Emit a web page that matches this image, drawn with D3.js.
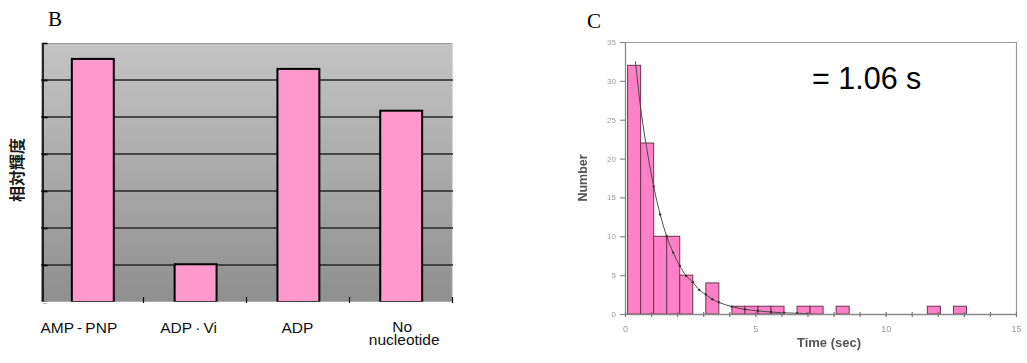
<!DOCTYPE html>
<html>
<head>
<meta charset="utf-8">
<script src="https://cdn.jsdelivr.net/npm/d3@7"></script>
<style>
  html, body { margin: 0; padding: 0; background: #fff; }
  svg { display: block; }
</style>
</head>
<body>
<svg id="fig" width="1027" height="363"></svg>
<script>
// ---- Panel B: relative brightness per nucleotide state ----
const bCategories = ["AMP\u2009-\u2009PNP", "ADP\u2009·\u2009Vi", "ADP", "No nucleotide"];
const bValues = [6.57, 1.02, 6.3, 5.17];
const bGridValues = [0, 1, 2, 3, 4, 5, 6, 7];

// ---- Panel C: dwell-time histogram with exponential fit ----
const cBinStart = [0.1, 0.6, 1.1, 1.6, 2.1, 2.6, 3.1, 3.6, 4.1, 4.6, 5.1, 5.6, 6.1, 6.6, 7.1, 7.6, 8.1, 8.6, 9.1, 9.6, 10.1, 10.6, 11.1, 11.6, 12.1, 12.6];
const cCounts   = [32, 22, 10, 10, 5, 0, 4, 0, 1, 1, 1, 1, 0, 1, 1, 0, 1, 0, 0, 0, 0, 0, 0, 1, 0, 1];
const cFitTime  = [0.4, 0.6, 0.85, 1.1, 1.35, 1.6, 1.85, 2.1, 2.35, 2.6, 2.85, 3.1, 3.35, 3.6, 4.1, 4.6, 5.1, 5.6, 6.1, 6.6, 7.0];
const cFitValue = [32.5, 26.5, 21, 16.4, 12.8, 10, 7.9, 6.2, 4.9, 4.1, 3.1, 2.5, 1.9, 1.5, 0.95, 0.6, 0.4, 0.25, 0.15, 0.1, 0.05];
const cYTicks = [0, 5, 10, 15, 20, 25, 30, 35];
const cXLabels = [0, 5, 10, 15];
const cTau = "= 1.06 s";

const svg = d3.select("#fig");
const defs = svg.append("defs");

// vertical gray gradient behind panel B
const grad = defs.append("linearGradient")
  .attr("id", "plotBg").attr("x1", 0).attr("y1", 0).attr("x2", 0).attr("y2", 1);
grad.append("stop").attr("offset", "0%").attr("stop-color", "#c4c4c4");
grad.append("stop").attr("offset", "100%").attr("stop-color", "#8f8f8f");

// soft focus for the scanned histogram panel
defs.append("filter").attr("id", "soft")
  .attr("x", "-5%").attr("y", "-5%").attr("width", "110%").attr("height", "110%")
  .append("feGaussianBlur").attr("stdDeviation", 0.75);

/* ================= Panel B ================= */
const bL = 41, bR = 453, bT = 43, bB = 302;
const xB = d3.scaleBand().domain(bCategories).range([bL, bR])
  .paddingInner(0.592).paddingOuter(0.3);
const xBTicks = d3.scaleBand().domain(bCategories).range([bL, bR]).padding(0);
const yB = d3.scaleLinear().domain([0, 7]).range([bB, bT]);

const gB = svg.append("g");

gB.append("text").attr("x", 48).attr("y", 26)
  .attr("font-family", "Liberation Serif, Times New Roman, serif")
  .attr("font-size", 21).text("B");

gB.append("rect").attr("x", bL).attr("y", bT)
  .attr("width", bR - bL).attr("height", bB - bT)
  .attr("fill", "url(#plotBg)");

// plot frame (top and right)
gB.append("line").attr("x1", bL).attr("x2", bR).attr("y1", bT + 0.5).attr("y2", bT + 0.5)
  .attr("stroke", "#9a9a9a").attr("stroke-width", 1.2);
gB.append("line").attr("x1", bR - 0.5).attr("x2", bR - 0.5).attr("y1", bT).attr("y2", bB)
  .attr("stroke", "#d6d6d6").attr("stroke-width", 1.2);

// horizontal gridlines
gB.append("g").selectAll("line")
  .data(bGridValues.filter(v => v > 0 && v < 7))
  .join("line")
  .attr("x1", bL).attr("x2", bR)
  .attr("y1", d => yB(d)).attr("y2", d => yB(d))
  .attr("stroke", "#262626").attr("stroke-width", 1.3);

// left value axis (no labels)
const yAxisB = gB.append("g").attr("transform", `translate(${bL + 1.5},0)`)
  .call(d3.axisLeft(yB).tickValues(bGridValues).tickSize(-5).tickSizeOuter(0).tickFormat(""));
yAxisB.select(".domain").attr("stroke", "#000").attr("stroke-width", 1.6);
yAxisB.selectAll(".tick line").attr("stroke", "#000").attr("stroke-width", 1.6);

// bars
gB.append("g").selectAll("rect")
  .data(bCategories.map((c, i) => ({ c, v: bValues[i] })))
  .join("rect")
  .attr("x", d => xB(d.c)).attr("width", xB.bandwidth())
  .attr("y", d => yB(d.v)).attr("height", d => yB(0) - yB(d.v))
  .attr("fill", "#ff99cc").attr("stroke", "#000").attr("stroke-width", 2);

// category axis: white baseline with ticks between categories
gB.append("line").attr("x1", bL).attr("x2", bR).attr("y1", bB + 0.5).attr("y2", bB + 0.5)
  .attr("stroke", "#ffffff").attr("stroke-width", 1.5);
const tickXs = bCategories.map(c => xBTicks(c)).concat([bR]);
gB.append("g").selectAll("line").data(tickXs.slice(1))
  .join("line")
  .attr("x1", d => d - 0.5).attr("x2", d => d - 0.5)
  .attr("y1", bB - 5).attr("y2", bB + 1)
  .attr("stroke", "#000").attr("stroke-width", 1.2);

// category labels (the last one wraps onto two tight lines)
const labelShift = [-14, -7, -1, 3];
const catLabels = gB.append("g")
  .attr("font-family", "Liberation Sans, Arial, sans-serif")
  .attr("font-size", 15.5).attr("fill", "#111").attr("text-anchor", "middle");
bCategories.forEach((c, i) => {
  const cx = xB(c) + xB.bandwidth() / 2 + labelShift[i];
  const words = c.split(" ");
  const t = catLabels.append("text").attr("y", 333);
  if (words.length > 1 && c.startsWith("No")) {
    t.append("tspan").attr("x", cx - 2).attr("y", 332).text(words[0]);
    t.append("tspan").attr("x", cx).attr("y", 344.5).text(words.slice(1).join(" "));
  } else {
    t.attr("x", cx).text(c);
  }
});

// value-axis title
gB.append("text")
  .attr("transform", `translate(23,170) rotate(-90)`)
  .attr("text-anchor", "middle")
  .attr("font-family", "Noto Sans CJK JP, sans-serif")
  .attr("font-size", 16).attr("font-weight", 600).attr("fill", "#1a1a1a")
  .text("相対輝度");

/* ================= Panel C ================= */
const cL = 625, cR = 1016, cT = 42, cB = 314;
const xC = d3.scaleLinear().domain([0, 15]).range([cL, cR]);
const yC = d3.scaleLinear().domain([0, 35]).range([cB, cT]);
const binWidth = 0.5;

svg.append("text").attr("x", 587).attr("y", 28)
  .attr("font-family", "Liberation Serif, Times New Roman, serif")
  .attr("font-size", 21).text("C");

const gC = svg.append("g").attr("filter", "url(#soft)");

// frame
gC.append("path")
  .attr("d", `M${cL},${cT + 0.5}H${cR + 0.5}V${cB}`)
  .attr("fill", "none").attr("stroke", "#9a9a9a").attr("stroke-width", 1.2);

// histogram bars
gC.append("g").selectAll("rect")
  .data(cBinStart.map((t, i) => ({ t, n: cCounts[i] })).filter(d => d.n > 0))
  .join("rect")
  .attr("x", d => xC(d.t)).attr("width", d => xC(d.t + binWidth) - xC(d.t))
  .attr("y", d => yC(d.n)).attr("height", d => yC(0) - yC(d.n))
  .attr("fill", "#ff80c6").attr("stroke", "#6a3550").attr("stroke-width", 1);

// exponential fit
const fitPts = cFitTime.map((t, i) => [t, cFitValue[i]]);
gC.append("path").datum(fitPts)
  .attr("d", d3.line().x(d => xC(d[0])).y(d => yC(d[1])).curve(d3.curveMonotoneX))
  .attr("fill", "none").attr("stroke", "#4a4a4a").attr("stroke-width", 1);
gC.append("g").selectAll("circle").data(fitPts.slice(3))
  .join("circle")
  .attr("cx", d => xC(d[0])).attr("cy", d => yC(d[1])).attr("r", 1.2)
  .attr("fill", "#333");

// y axis
const yAxisC = gC.append("g").attr("transform", `translate(${cL},0)`)
  .call(d3.axisLeft(yC).tickValues(cYTicks).tickSize(5).tickSizeOuter(0).tickPadding(4));
yAxisC.select(".domain").attr("stroke", "#8a8a8a").attr("stroke-width", 1.3);
yAxisC.selectAll(".tick line").attr("stroke", "#8a8a8a").attr("stroke-width", 1.2);
yAxisC.selectAll(".tick text").attr("fill", "#9a9a9a")
  .attr("font-family", "Liberation Sans, Arial, sans-serif").attr("font-size", 8);

// x axis: minor ticks each second, labels every five
const xAxisC = gC.append("g").attr("transform", `translate(0,${cB})`)
  .call(d3.axisBottom(xC).tickValues(d3.range(0, 16)).tickSize(3).tickSizeOuter(0)
    .tickPadding(9).tickFormat(d => cXLabels.includes(d) ? d : ""));
xAxisC.select(".domain").attr("stroke", "#8a8a8a").attr("stroke-width", 1.3);
xAxisC.selectAll(".tick line").attr("stroke", "#777").attr("stroke-width", 1.2).attr("y1", -2);
xAxisC.selectAll(".tick text").attr("fill", "#9a9a9a")
  .attr("font-family", "Liberation Sans, Arial, sans-serif").attr("font-size", 9);

// axis titles
gC.append("text")
  .attr("transform", `translate(587,178) rotate(-90)`)
  .attr("text-anchor", "middle")
  .attr("font-family", "Liberation Sans, Arial, sans-serif")
  .attr("font-size", 12.5).attr("font-weight", "bold").attr("fill", "#555")
  .text("Number");
gC.append("text")
  .attr("x", 829).attr("y", 347)
  .attr("text-anchor", "middle")
  .attr("font-family", "Liberation Sans, Arial, sans-serif")
  .attr("font-size", 13).attr("font-weight", "bold").attr("fill", "#555")
  .text("Time (sec)");

// time-constant annotation
svg.append("text").attr("x", 812).attr("y", 89)
  .attr("font-family", "Liberation Sans, Arial, sans-serif")
  .attr("font-size", 30.5).attr("fill", "#000")
  .text(cTau);
</script>
</body>
</html>
